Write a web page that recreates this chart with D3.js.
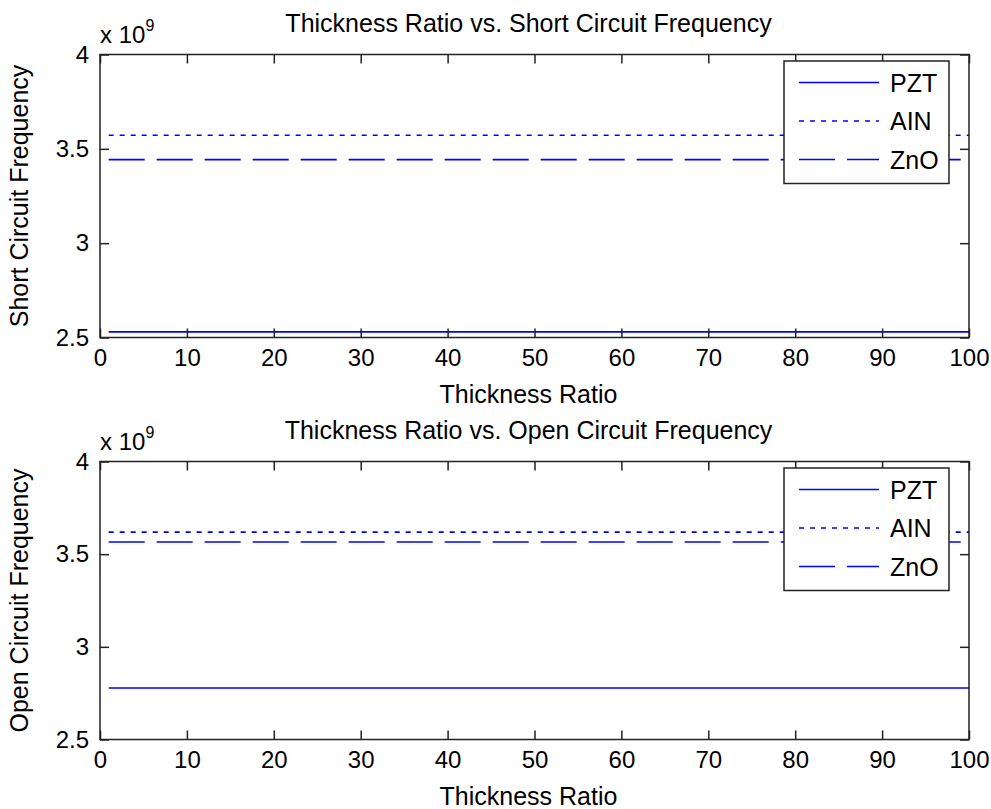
<!DOCTYPE html>
<html>
<head>
<meta charset="utf-8">
<script src="https://cdn.jsdelivr.net/npm/d3@7"></script>
<style>
  body { margin: 0; background: #fff; }
  svg text { font-family: "Liberation Sans", Arial, sans-serif; fill: #000; }
</style>
</head>
<body>
<div id="chart"></div>
<script>
// thickness ratio endpoints of each line
const thicknessRatio = [1, 100];
const materials = ['PZT', 'AIN', 'ZnO'];

// frequencies in units of 1e9 Hz
const shortPZT = [2.530, 2.530];
const shortAIN = [3.572, 3.572];
const shortZnO = [3.443, 3.443];

const openPZT = [2.778, 2.778];
const openAIN = [3.619, 3.619];
const openZnO = [3.566, 3.566];

const xTicks = [0, 10, 20, 30, 40, 50, 60, 70, 80, 90, 100];
const yTicks = [2.5, 3, 3.5, 4];

const width = 991, height = 809;
const left = 100, right = 969;
const dashes = {PZT: null, AIN: '5,6', ZnO: '36,12'};
const blue = '#0000ff';
const axisColor = '#222';

const svg = d3.select('#chart').append('svg')
    .attr('width', width)
    .attr('height', height);

function drawPanel(top, bottom, title, ylabel, series) {
    const g = svg.append('g');

    const xScale = d3.scaleLinear().domain([0, 100]).range([left, right]);
    const yScale = d3.scaleLinear().domain([2.5, 4]).range([bottom, top]);

    // lines
    const line = d3.line()
        .x((d, i) => xScale(thicknessRatio[i]))
        .y(d => yScale(d));

    materials.forEach((m, i) => {
        g.append('path')
            .attr('d', line(series[i]))
            .attr('fill', 'none')
            .attr('stroke', blue)
            .attr('stroke-width', 1.6)
            .attr('stroke-dasharray', dashes[m]);
    });

    // axes with inward ticks
    const xb = g.append('g').attr('transform', `translate(0, ${bottom})`)
        .call(d3.axisBottom(xScale).tickValues(xTicks).tickSize(-9).tickSizeOuter(0).tickPadding(11));
    const xt = g.append('g').attr('transform', `translate(0, ${top})`)
        .call(d3.axisTop(xScale).tickValues(xTicks).tickSize(-9).tickSizeOuter(0).tickFormat(''));
    const yl = g.append('g').attr('transform', `translate(${left}, 0)`)
        .call(d3.axisLeft(yScale).tickValues(yTicks).tickSize(-9).tickSizeOuter(0).tickPadding(11).tickFormat(d3.format('~g')));
    const yr = g.append('g').attr('transform', `translate(${right}, 0)`)
        .call(d3.axisRight(yScale).tickValues(yTicks).tickSize(-9).tickSizeOuter(0).tickFormat(''));

    [xb, xt, yl, yr].forEach(a => {
        a.select('.domain').remove();
        a.selectAll('line').attr('stroke', axisColor).attr('stroke-width', 1.5);
        a.selectAll('text').style('font-size', '24px').style('font-family', '"Liberation Sans", Arial, sans-serif').attr('fill', '#000');
    });

    g.append('rect')
        .attr('x', left).attr('y', top)
        .attr('width', right - left).attr('height', bottom - top)
        .attr('fill', 'none')
        .attr('stroke', axisColor)
        .attr('stroke-width', 1.5);

    // exponent
    const expo = g.append('text')
        .attr('x', left).attr('y', top - 12)
        .style('font-size', '24px');
    expo.append('tspan').text('x 10');
    expo.append('tspan').text('9').attr('dy', -12).style('font-size', '16px');

    // title and labels
    g.append('text')
        .attr('x', (left + right) / 2 - 6).attr('y', top - 23)
        .attr('text-anchor', 'middle')
        .style('font-size', '25px')
        .text(title);

    g.append('text')
        .attr('x', (left + right) / 2 - 6).attr('y', bottom + 65)
        .attr('text-anchor', 'middle')
        .style('font-size', '25px')
        .text('Thickness Ratio');

    g.append('text')
        .attr('transform', `translate(28, ${(top + bottom) / 2}) rotate(-90)`)
        .attr('text-anchor', 'middle')
        .style('font-size', '25px')
        .text(ylabel);

    // legend
    const lg = g.append('g').attr('transform', `translate(784, ${top + 6.5})`);
    lg.append('rect')
        .attr('width', 165).attr('height', 122.5)
        .attr('fill', '#fff')
        .attr('stroke', axisColor)
        .attr('stroke-width', 1.5);
    materials.forEach((m, i) => {
        const yy = 21.5 + i * 38.5;
        lg.append('line')
            .attr('x1', 15).attr('x2', 95)
            .attr('y1', yy).attr('y2', yy)
            .attr('stroke', blue)
            .attr('stroke-width', 1.6)
            .attr('stroke-dasharray', dashes[m]);
        lg.append('text')
            .attr('x', 106).attr('y', yy + 9)
            .style('font-size', '25px')
            .text(m);
    });
}

drawPanel(54.5, 337.5, 'Thickness Ratio vs. Short Circuit Frequency', 'Short Circuit Frequency', [shortPZT, shortAIN, shortZnO]);
drawPanel(461.5, 739.5, 'Thickness Ratio vs. Open Circuit Frequency', 'Open Circuit Frequency', [openPZT, openAIN, openZnO]);
</script>
</body>
</html>
